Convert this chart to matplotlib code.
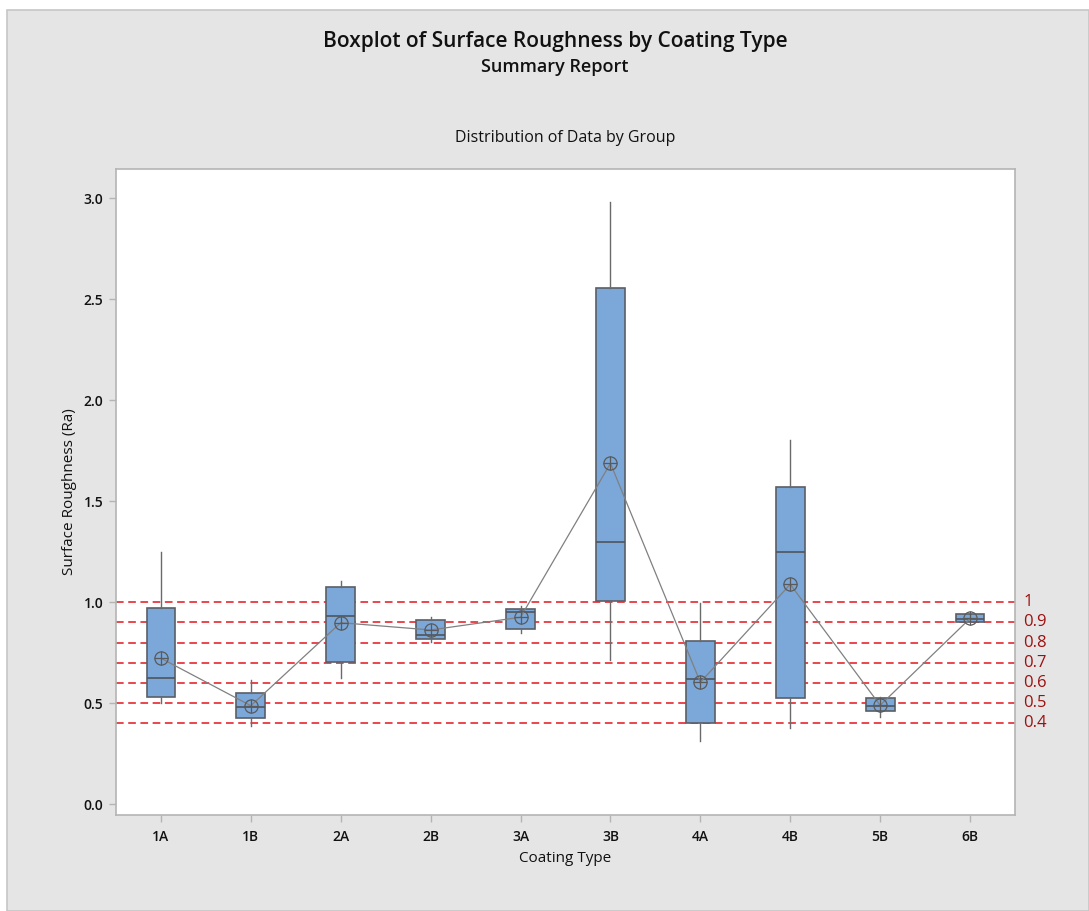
import matplotlib
matplotlib.use("Agg")
import matplotlib.pyplot as plt
from matplotlib.patches import Rectangle

plt.rcParams['font.family'] = ['Open Sans', 'DejaVu Sans']

# Coating types and per-group five-number summaries (Ra)
coating_types = ["1A", "1B", "2A", "2B", "3A", "3B", "4A", "4B", "5B", "6B"]
whisker_low = [0.503, 0.388, 0.624, 0.805, 0.846, 0.714, 0.315, 0.379, 0.431, 0.900]
q1_values = [0.531, 0.426, 0.706, 0.817, 0.869, 1.008, 0.402, 0.526, 0.460, 0.901]
medians = [0.627, 0.483, 0.931, 0.838, 0.953, 1.297, 0.620, 1.250, 0.488, 0.917]
q3_values = [0.970, 0.553, 1.074, 0.911, 0.968, 2.554, 0.810, 1.569, 0.525, 0.944]
whisker_high = [1.250, 0.615, 1.104, 0.926, 0.982, 2.983, 0.995, 1.803, 0.530, 0.949]
means = [0.723, 0.488, 0.899, 0.863, 0.926, 1.688, 0.604, 1.089, 0.490, 0.920]

# Reference levels drawn as dashed lines
ref_levels = [1.0, 0.9, 0.8, 0.7, 0.6, 0.5, 0.4]
ref_labels = ["1", "0.9", "0.8", "0.7", "0.6", "0.5", "0.4"]

y_ticks = [0.0, 0.5, 1.0, 1.5, 2.0, 2.5, 3.0]

W, H = 1089, 911
fig = plt.figure(figsize=(W / 100, H / 100), dpi=100, facecolor="white")

# Grey report panel
panel = Rectangle((7 / W, 0), 1 - 7 / W, 1 - 10 / H, transform=fig.transFigure,
                  facecolor="#e5e5e5", edgecolor="#c6c6c6", linewidth=1.2, zorder=-5)
fig.patches.append(panel)

fig.text(555 / W, 1 - 41 / H, "Boxplot of Surface Roughness by Coating Type",
         ha="center", va="center", fontsize=15, color="#111111", fontweight="semibold")
fig.text(555 / W, 1 - 67 / H, "Summary Report",
         ha="center", va="center", fontsize=13, color="#111111", fontweight="semibold")
fig.text(565 / W, 1 - 138 / H, "Distribution of Data by Group",
         ha="center", va="center", fontsize=11.5, color="#111111", fontweight="medium")

left, right, top, bottom = 116, 1015, 169, 815
ax = fig.add_axes([left / W, 1 - bottom / H, (right - left) / W, (bottom - top) / H])
ax.set_zorder(2)
ax.set_facecolor("white")

stats = []
for i, name in enumerate(coating_types):
    stats.append(dict(label=name, whislo=whisker_low[i], q1=q1_values[i], med=medians[i],
                      q3=q3_values[i], whishi=whisker_high[i], mean=means[i], fliers=[]))

positions = list(range(len(coating_types)))

# Reference lines
for lvl in ref_levels:
    ax.axhline(lvl, color="#e3151c", linestyle=(0, (5, 3)), linewidth=1.1, zorder=1)

ax.bxp(stats, positions=positions, widths=0.32, patch_artist=True, showmeans=False,
       showcaps=False,
       boxprops=dict(facecolor="#7ba7d9", edgecolor="#5a5f66", linewidth=1.2),
       medianprops=dict(color="#4f555c", linewidth=1.2),
       whiskerprops=dict(color="#6a6a6a", linewidth=1.0),
       zorder=2)

# Mean connect line and mean symbols
ax.plot(positions, means, color="#808080", linewidth=0.9, zorder=3)
ax.plot(positions, means, linestyle="none", marker="o", markersize=9.5,
        markerfacecolor="none", markeredgecolor="#5a5a5a", markeredgewidth=0.9, zorder=4)
ax.plot(positions, means, linestyle="none", marker="+", markersize=9.5,
        markeredgecolor="#5a5a5a", markeredgewidth=0.9, zorder=4)

ax.set_xlim(-0.5, len(coating_types) - 0.5)
ax.set_ylim(-0.053, 3.145)
ax.set_yticks(y_ticks)
ax.set_yticklabels([f"{v:.1f}" for v in y_ticks])
ax.set_xticks(positions)
ax.set_xticklabels(coating_types)

for sp in ax.spines.values():
    sp.set_color("#b4b4b4")
    sp.set_linewidth(1.2)

ax.tick_params(axis="both", colors="#b4b4b4", length=5, width=1.0, labelsize=10,
               labelcolor="#111111")
ax.tick_params(axis="x", pad=6)
ax.tick_params(axis="y", pad=4)
for lbl in ax.get_xticklabels() + ax.get_yticklabels():
    lbl.set_fontweight("semibold")

# Right-hand labels for the reference levels
for lvl, txt in zip(ref_levels, ref_labels):
    ax.annotate(txt, xy=(1.0, lvl), xycoords=("axes fraction", "data"),
                xytext=(6, 0), textcoords="offset points", ha="left", va="center",
                fontsize=12, color="#9c1010", annotation_clip=False)

ax.set_xlabel("Coating Type", fontsize=11, color="#111111", labelpad=5,
              fontweight="medium")
ax.set_ylabel("Surface Roughness (Ra)", fontsize=11, color="#111111", labelpad=5,
              fontweight="medium")

fig.savefig("out.png", dpi=100, facecolor=fig.get_facecolor())
